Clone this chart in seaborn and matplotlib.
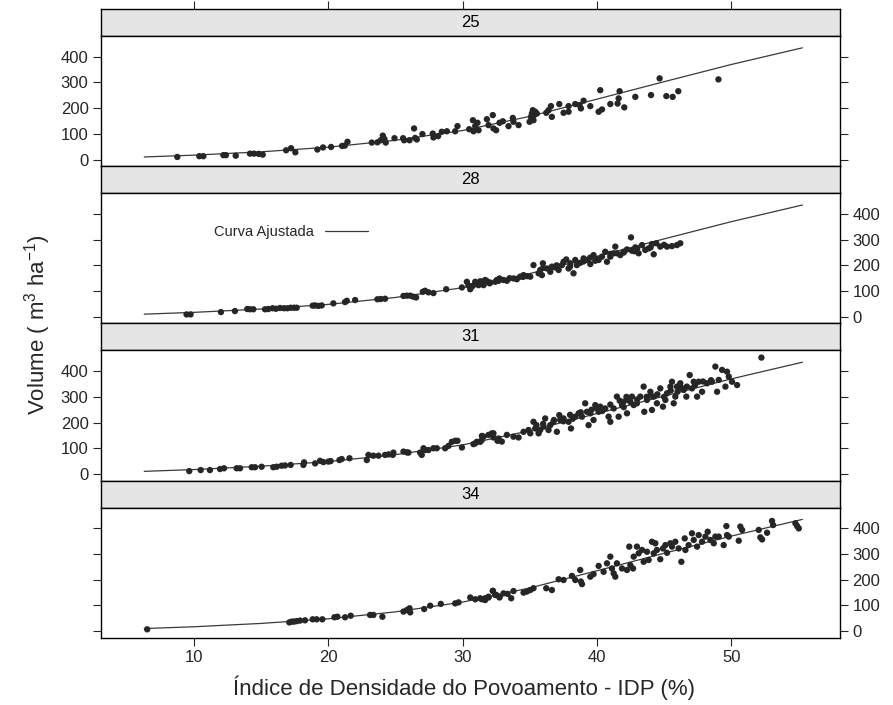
import numpy as np
import pandas as pd
import seaborn as sns
import matplotlib
matplotlib.use("Agg")
import matplotlib.pyplot as plt
from matplotlib import font_manager

# ---------------- data ----------------
panels = ["25", "28", "31", "34"]

curve_idp = [6.3, 10, 15, 20, 25, 30, 35, 40, 45, 50, 55.3]
curve_vol = [10, 17, 30, 48, 75, 113, 168, 235, 303, 370, 435]

idp_25 = [8.76, 10.40, 10.70, 12.19, 12.38, 13.11, 14.17, 14.47, 14.82, 15.12, 16.86, 17.23,
          17.55, 19.19, 19.61, 20.21, 21.03, 21.23, 21.43, 23.24, 23.66, 23.91, 24.06, 24.18,
          24.28, 24.93, 25.57, 25.65, 26.05, 26.39, 26.47, 26.59, 27.01, 27.78, 27.83, 28.18,
          28.45, 28.83, 29.45, 29.62, 30.49, 30.77, 30.81, 30.94, 31.11, 31.19,
          31.81, 31.93, 32.25, 32.30, 32.50, 32.75, 33.00, 33.42, 33.74, 33.79, 34.17, 34.99,
          35.09, 35.16, 35.23, 35.28, 35.33, 35.41, 35.53, 36.23, 36.40, 36.58, 36.65, 37.20,
          37.52, 37.89, 37.89, 38.39, 38.71, 38.81, 39.01, 39.51, 40.13, 40.25, 40.38, 41.00,
          41.54, 41.62, 41.69, 42.04, 42.86, 44.03, 44.67, 45.17, 45.64, 46.06, 49.05]
vol_25 = [10, 13, 13, 17, 17, 15, 23, 23, 22, 19, 36, 44,
          28, 39, 47, 49, 53, 54, 69, 66, 67, 75, 93, 80,
          66, 83, 83, 75, 75, 121, 84, 78, 99, 101, 86, 91,
          108, 110, 110, 130, 118, 153, 110, 130, 143, 114,
          157, 134, 173, 121, 114, 143, 149, 130, 162, 147, 134, 147,
          166, 179, 192, 153, 173, 186, 179, 182, 192, 208, 166, 216,
          182, 208, 186, 216, 212, 199, 229, 208, 186, 270, 195, 216,
          218, 238, 266, 203, 244, 251, 316, 247, 244, 266, 312]

idp_28 = [9.45, 9.75, 12.01, 13.05, 13.97, 14.17, 14.42, 15.29, 15.54, 15.86, 16.11, 16.41,
          16.71, 16.95, 17.20, 17.45, 17.65, 18.84, 19.02, 19.26, 19.51, 20.38, 21.25, 21.38,
          22.00, 23.66, 23.91, 24.23, 25.60, 25.85, 26.10, 26.34, 26.54, 27.04, 27.21, 27.46,
          27.83, 28.78, 29.95, 30.32, 30.44, 30.57, 30.76, 30.94, 31.19, 31.31, 31.56, 31.81,
          32.01, 32.55, 32.75,
          31.43, 31.56, 31.68, 32.06, 32.43, 32.68, 33.05, 33.30, 33.79, 34.04, 34.29, 34.54,
          34.79, 35.04, 35.28, 35.66, 35.78, 35.91, 35.98, 36.28, 36.53, 36.65, 36.90, 37.15,
          37.40, 37.52, 37.72, 37.89, 38.02, 38.26, 38.39, 38.51, 38.76, 39.01, 39.26, 39.51,
          39.75, 39.88, 40.13, 40.38, 40.62, 40.75, 41.00, 41.25, 41.37, 41.49, 41.74, 41.99,
          42.24, 42.54, 42.61, 42.86, 43.11, 43.36, 43.60, 43.85, 44.10, 44.23, 44.42, 44.72,
          45.22, 45.59, 45.96, 46.21,
          36.0, 37.0, 38.0, 39.0, 40.0, 41.0, 42.0, 43.0, 44.0, 45.0, 33.5, 34.5, 36.5, 39.5, 42.8]
vol_28 = [9, 9, 18, 22, 30, 29, 29, 29, 30, 33, 31, 34,
          33, 33, 35, 35, 35, 43, 44, 42, 44, 52, 57, 62,
          65, 68, 69, 70, 81, 82, 82, 78, 75, 97, 101, 95,
          92, 107, 114, 136, 122, 107, 120, 136, 123, 138, 127, 139,
          130, 143, 149,
          136, 123, 143, 133, 136, 140, 143, 140, 149, 146, 156, 162,
          158, 156, 201, 169, 182, 162, 208, 188, 175, 195, 192, 182,
          201, 214, 223, 188, 208, 169, 221, 201, 210, 227, 221, 205,
          240, 218, 221, 234, 253, 214, 234, 247, 273, 247, 240, 253,
          262, 309, 257, 270, 247, 279, 260, 266, 283, 243, 286, 273,
          273, 275, 279, 286,
          190, 200, 195, 215, 225, 245, 250, 265, 270, 280, 150, 155, 185, 230, 255]

idp_31 = [9.65, 10.50, 11.19, 11.94, 12.24, 13.18, 13.43, 14.30, 14.55, 15.04, 15.91, 16.16,
          16.53, 16.78, 17.20, 18.15, 18.20, 19.02, 19.39, 19.64, 20.01, 20.18, 20.83, 21.00,
          21.58, 22.87, 22.99, 23.36, 23.74, 24.23, 24.48, 24.80, 24.85, 25.60, 25.85, 25.97,
          26.84, 26.96, 27.09, 27.21, 27.46, 27.83, 28.08, 28.70, 28.95, 29.20, 29.45, 29.62,
          29.95, 30.81, 30.94, 31.06, 31.31, 31.44, 32.18, 32.30, 32.60,
          31.43, 31.56, 31.93, 32.30, 32.68, 32.92, 33.30, 33.79, 34.17, 34.54, 34.91, 35.04,
          35.28, 35.41, 35.66, 35.78, 36.03, 36.15, 36.40, 36.53, 36.77, 37.02, 37.20, 37.27,
          37.52, 37.89, 38.07, 38.39, 38.64, 38.89, 39.13, 39.26, 39.38, 39.51, 39.75, 39.88,
          40.13, 40.25, 40.62, 40.87, 41.00, 41.25, 41.49, 41.62, 41.87, 41.99, 42.24, 42.36,
          42.61, 42.74, 42.98, 43.23, 43.48, 43.53, 43.73, 43.98, 44.10, 44.23, 44.47, 44.72,
          44.92, 45.10, 45.22, 45.47, 45.59, 45.72, 45.84, 45.96, 46.21, 46.46, 46.66, 46.91,
          47.08, 47.21, 47.46, 47.58, 47.83, 48.20, 48.57, 48.82, 48.95, 49.07, 49.32, 49.57,
          49.69, 49.82, 50.06, 50.44, 52.25,
          35.5, 36.0, 36.8, 37.5, 38.2, 38.8, 39.6, 40.4, 41.0, 41.7, 42.0, 42.5, 43.0, 43.7,
          44.5, 45.0, 45.5, 46.0, 46.7, 47.3, 47.9, 48.5, 38.0, 40.0, 42.2, 44.0, 46.3]
vol_31 = [11, 15, 15, 19, 22, 22, 22, 26, 26, 28, 26, 28,
          32, 33, 35, 35, 45, 41, 51, 46, 48, 50, 54, 58,
          61, 54, 74, 71, 71, 74, 76, 74, 83, 87, 84, 83,
          83, 74, 100, 93, 93, 100, 100, 100, 109, 125, 129, 129,
          103, 116, 119, 125, 125, 148, 158, 142, 129,
          132, 145, 152, 158, 138, 126, 152, 145, 142, 164, 171, 158,
          203, 177, 158, 171, 184, 216, 171, 190, 203, 164, 229, 210,
          216, 203, 177, 223, 236, 223, 275, 242, 190, 236, 210, 268,
          242, 262, 255, 223, 203, 255, 301, 223, 268, 281, 236, 288,
          301, 268, 275, 301, 340, 242, 288, 320, 249, 301, 275, 333,
          262, 288, 314, 340, 359, 275, 301, 340, 353, 327, 301, 385,
          333, 359, 301, 359, 320, 353, 359, 418, 320, 366, 405, 340,
          398, 379, 359, 346, 453,
          190, 195, 210, 205, 215, 240, 250, 245, 270, 285, 260, 280, 290, 300,
          310, 300, 325, 320, 340, 345, 360, 365, 230, 255, 300, 305, 335]

idp_34 = [6.52, 17.10, 17.28, 17.45, 17.65, 17.90, 18.27, 18.84, 19.14, 19.56, 20.46, 20.68,
          21.25, 21.67, 23.11, 23.36, 24.03, 25.60, 25.85, 26.05, 26.10, 27.14, 27.59, 28.38,
          29.45, 29.70, 30.57, 30.94, 31.31, 31.68, 31.93, 32.26, 32.50, 32.75,
          31.43, 31.68, 31.93, 32.25, 32.43, 32.75, 33.05, 33.35, 33.62, 33.79, 34.54, 34.79,
          35.04, 35.28, 36.23, 36.65, 37.15, 37.52, 38.14, 38.39, 38.76, 38.81, 38.89, 39.51,
          39.75, 40.13, 40.50, 40.75, 41.00, 41.12, 41.25, 41.37, 41.49, 41.87, 42.24, 42.41,
          42.49, 42.69, 42.74, 42.98, 43.11, 43.36, 43.48, 43.73, 43.85, 44.10, 44.23, 44.35,
          44.47, 44.72, 44.92, 45.10, 45.22, 45.47, 45.59, 45.84, 46.09, 46.29, 46.54, 46.59,
          46.83, 47.08, 47.21, 47.46, 47.58, 47.83, 48.08, 48.25, 48.45, 48.70, 48.82, 49.07,
          49.44, 49.64, 49.69, 49.82, 50.56, 50.68, 50.81, 52.05, 52.17, 52.30, 52.67, 53.04,
          53.12, 54.78, 54.91, 55.03]
vol_34 = [7, 34, 37, 37, 39, 41, 42, 46, 46, 46, 54, 56,
          54, 60, 63, 63, 56, 76, 82, 89, 73, 86, 99, 106,
          108, 112, 131, 124, 128, 121, 134, 156, 141, 134,
          124, 128, 131, 157, 141, 131, 147, 145, 128, 156, 150, 154,
          160, 167, 167, 160, 202, 199, 215, 199, 238, 193, 183, 212,
          222, 254, 231, 264, 290, 244, 225, 212, 264, 244, 238, 329,
          257, 244, 290, 329, 303, 316, 270, 309, 277, 348, 303, 342,
          316, 280, 322, 335, 305, 342, 329, 348, 322, 270, 361, 316,
          335, 381, 355, 329, 374, 348, 368, 387, 355, 342, 368, 368,
          335, 409, 374, 368, 352, 407, 394, 394, 365, 357, 383, 429,
          413, 420, 409, 400]

x_ticks = [10, 20, 30, 40, 50]
y_ticks = [0, 100, 200, 300, 400]
x_label = "Índice de Densidade do Povoamento - IDP (%)"
y_label = "Volume ( m$^{3}$ ha$^{-1}$)"
legend_label = "Curva Ajustada"

# ---------------- style ----------------
sns.set_style("white")
fams = {f.name for f in font_manager.fontManager.ttflist}
narrow = "Liberation Sans Narrow" if "Liberation Sans Narrow" in fams else "Liberation Sans"
plt.rcParams["font.family"] = [narrow, "DejaVu Sans"]
plt.rcParams["mathtext.fontset"] = "custom"
plt.rcParams["mathtext.rm"] = narrow
plt.rcParams["mathtext.default"] = "regular"

data = {
    "25": (idp_25, vol_25),
    "28": (idp_28, vol_28),
    "31": (idp_31, vol_31),
    "34": (idp_34, vol_34),
}

W, H = 893, 705
fig = plt.figure(figsize=(W / 100, H / 100), dpi=100)

L, R = 101, 840
T0, P, S = 9, 157.2, 27
xlim = (3.08, 58.1)
ylim = (-26, 481)

for i, name in enumerate(panels):
    top = T0 + i * P
    sax = fig.add_axes([L / W, 1 - (top + S) / H, (R - L) / W, S / H])
    bax = fig.add_axes([L / W, 1 - (top + P) / H, (R - L) / W, (P - S) / H])

    # strip
    sax.set_facecolor("#e5e5e5")
    sax.set_xlim(xlim)
    sax.set_ylim(0, 1)
    sax.set_yticks([])
    sax.text(0.5, 0.5, name, transform=sax.transAxes, ha="center", va="center",
             fontsize=12, color="black")
    if i == 0:
        sax.set_xticks(x_ticks)
        sax.tick_params(axis="x", which="both", top=True, bottom=False, labeltop=False,
                        labelbottom=False, direction="out", length=6, width=0.8)
    else:
        sax.set_xticks([])
    for sp in sax.spines.values():
        sp.set_linewidth(1.0)
        sp.set_color("black")

    # body
    idp, vol = data[name]
    df = pd.DataFrame({"IDP": idp, "Volume": vol})
    cdf = pd.DataFrame({"IDP": curve_idp, "Volume": curve_vol})
    sns.lineplot(data=cdf, x="IDP", y="Volume", ax=bax, color="#3a3a3a", linewidth=0.9,
                 label=legend_label if name == "28" else None, legend=False, zorder=2)
    sns.scatterplot(data=df, x="IDP", y="Volume", ax=bax, s=21, color="#262626",
                    linewidth=0, edgecolor="none", zorder=3, legend=False)
    bax.set_xlim(xlim)
    bax.set_ylim(ylim)
    bax.set_xlabel("")
    bax.set_ylabel("")
    bax.set_yticks(y_ticks)
    bax.tick_params(axis="y", which="both", left=True, right=True,
                    labelleft=(i % 2 == 0), labelright=(i % 2 == 1),
                    direction="out", length=6, width=0.8, labelsize=12, pad=3)
    if i == len(panels) - 1:
        bax.set_xticks(x_ticks)
        bax.tick_params(axis="x", which="both", bottom=True, top=False, labelbottom=True,
                        direction="out", length=6, width=0.8, labelsize=12, pad=3)
    else:
        bax.set_xticks([])
    for sp in bax.spines.values():
        sp.set_linewidth(1.0)
        sp.set_color("black")

    if name == "28":
        bax.legend(loc="center left", bbox_to_anchor=(0.153, 0.704), frameon=False,
                   markerfirst=False, handlelength=2.95, handletextpad=0.75,
                   borderpad=0, borderaxespad=0,
                   prop={"family": ["Liberation Sans", "DejaVu Sans"], "size": 10.5})

fig.text(464 / W, 1 - 688 / H, x_label, ha="center", va="center", fontsize=16)
fig.text(38 / W, 1 - 325 / H, y_label, ha="center", va="center", rotation=90, fontsize=16)

fig.savefig("out.png", dpi=100)
